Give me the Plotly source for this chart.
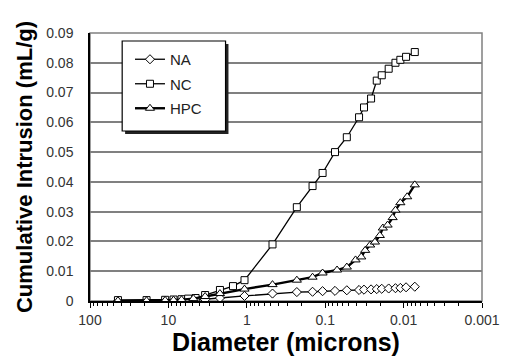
import plotly.graph_objects as go

# Diameter (microns) and cumulative intrusion (mL/g)
na_d = [44, 19, 11, 8.6, 6.8, 4.8, 3.4, 2.2, 1.07, 0.47, 0.23, 0.145, 0.108, 0.075, 0.053,
        0.037, 0.032, 0.026, 0.022, 0.019, 0.0155, 0.0127, 0.011, 0.0093, 0.0072]
na_v = [0.0, 0.0, 0.0001, 0.0001, 0.0002, 0.0003, 0.0005, 0.001, 0.0017, 0.0025, 0.003,
        0.0031, 0.0033, 0.0034, 0.0036, 0.0037, 0.0038, 0.0039, 0.004, 0.0041, 0.0042,
        0.0043, 0.0044, 0.0046, 0.0048]

nc_d = [44, 19, 11, 8.6, 6.8, 5.6, 4.5, 3.4, 2.2, 1.5, 1.07, 0.47, 0.23, 0.145, 0.108,
        0.075, 0.053, 0.037, 0.032, 0.026, 0.022, 0.019, 0.0155, 0.0127, 0.011, 0.0093, 0.0072]
nc_v = [0.0003, 0.0003, 0.0004, 0.0005, 0.0006, 0.0008, 0.001, 0.002, 0.0037, 0.005, 0.007,
        0.019, 0.0315, 0.0386, 0.043, 0.05, 0.055, 0.0617, 0.065, 0.068, 0.074, 0.0758,
        0.078, 0.080, 0.081, 0.082, 0.0836]

hpc_d = [44, 19, 11, 8.6, 6.8, 4.8, 3.4, 2.2, 1.07, 0.47, 0.23, 0.145, 0.108, 0.0706,
         0.053, 0.041, 0.0347, 0.0309, 0.0267, 0.0232, 0.0201, 0.0184, 0.016, 0.0138,
         0.0127, 0.011, 0.009, 0.0072]
hpc_v = [0.0001, 0.0001, 0.0002, 0.0003, 0.0004, 0.0008, 0.0015, 0.0025, 0.004, 0.0055,
         0.007, 0.008, 0.0094, 0.0104, 0.0114, 0.0138, 0.0148, 0.017, 0.0188, 0.0198,
         0.022, 0.0245, 0.0255, 0.028, 0.0305, 0.033, 0.035, 0.039]

x_ticks = [100, 10, 1, 0.1, 0.01, 0.001]
x_labels = ["100", "10", "1", "0.1", "0.01", "0.001"]
y_ticks = [0, 0.01, 0.02, 0.03, 0.04, 0.05, 0.06, 0.07, 0.08, 0.09]
y_labels = ["0", "0.01", "0.02", "0.03", "0.04", "0.05", "0.06", "0.07", "0.08", "0.09"]

FONT = "Arial, Liberation Sans, sans-serif"

L, R, T, B = 90, 20, 33, 59
PW, PH = 512 - L - R, 360 - T - B


def px(x):
    return (x - L) / PW


def py(y):
    return (360 - B - y) / PH


fig = go.Figure()
fig.add_trace(go.Scatter(x=na_d, y=na_v, name="NA", mode="lines+markers", legendgroup="a",
                         line=dict(color="black", width=1.3),
                         marker=dict(symbol="diamond", size=7, color="white",
                                     line=dict(color="black", width=1))))
fig.add_trace(go.Scatter(x=nc_d, y=nc_v, name="NC", mode="lines+markers", legendgroup="b",
                         line=dict(color="black", width=1.3),
                         marker=dict(symbol="square", size=7, color="white",
                                     line=dict(color="black", width=1))))
fig.add_trace(go.Scatter(x=hpc_d, y=hpc_v, name="HPC", mode="lines+markers", legendgroup="c",
                         line=dict(color="black", width=2.4),
                         marker=dict(symbol="triangle-up", size=8, color="white",
                                     line=dict(color="black", width=1))))

# legend box with drop shadow
fig.add_shape(type="rect", xref="paper", yref="paper", layer="above",
              x0=px(126), x1=px(232), y0=py(134), y1=py(44),
              fillcolor="#222", line=dict(width=0))
fig.add_shape(type="rect", xref="paper", yref="paper", layer="above",
              x0=px(123), x1=px(229), y0=py(131), y1=py(41),
              fillcolor="white", line=dict(color="black", width=1.2))

fig.update_layout(
    width=512, height=360,
    margin=dict(l=L, r=R, t=T, b=B),
    paper_bgcolor="white", plot_bgcolor="white",
    font=dict(family=FONT, color="#222", size=12),
    showlegend=True,
    legend=dict(x=px(131), y=py(43), xanchor="left", yanchor="top",
                bgcolor="rgba(0,0,0,0)", borderwidth=0,
                font=dict(size=15, family=FONT, color="#222"),
                tracegroupgap=2, itemwidth=30),
    xaxis=dict(type="log", range=[2, -3], tickvals=x_ticks, ticktext=x_labels,
               showgrid=False, showline=True, linecolor="black", linewidth=1.5,
               mirror=False, ticks="outside", ticklen=5, tickcolor="black",
               tickfont=dict(size=14, family=FONT, color="#333"),
               minor=dict(ticks="outside", ticklen=3, tickcolor="black", dtick="D1",
                          showgrid=False),
               title=dict(text="<b>Diameter (microns)</b>",
                          font=dict(size=25, family=FONT, color="black"), standoff=3),
               zeroline=False),
    yaxis=dict(range=[0, 0.09], tickvals=y_ticks, ticktext=y_labels,
               showgrid=True, gridcolor="#808080", gridwidth=1.5,
               showline=True, linecolor="black", linewidth=1.5,
               ticks="", ticklabelstandoff=12,
               tickfont=dict(size=14, family=FONT, color="#333"),
               title=dict(text="<b>Cumulative Intrusion (mL/g)</b>",
                          font=dict(size=22, family=FONT, color="black"), standoff=8),
               zeroline=False),
)

# plot-area border (gray)
fig.add_shape(type="rect", xref="paper", yref="paper", x0=0, x1=1, y0=0, y1=1,
              line=dict(color="#808080", width=1.5), layer="below")

fig.write_html("out.html")
